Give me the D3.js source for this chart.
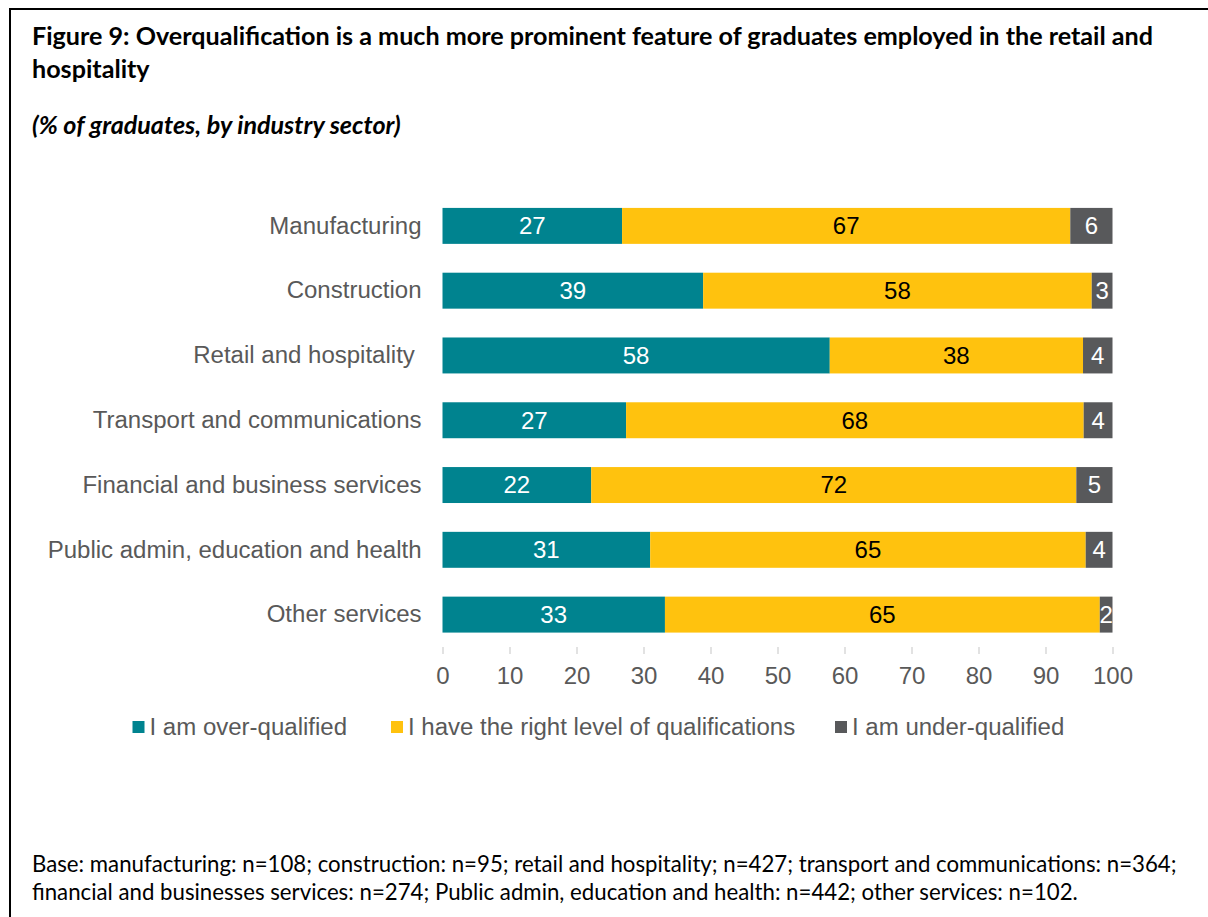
<!DOCTYPE html>
<html>
<head>
<meta charset="utf-8">
<script src="https://cdn.jsdelivr.net/npm/d3@7"></script>
<style>
  html, body { margin: 0; padding: 0; background: #fff; }
  svg { display: block; }
  .sans { font-family: "Liberation Sans", Arimo, Arial, Roboto, sans-serif; }
</style>
</head>
<body>
<svg id="chart" width="1208" height="917"></svg>
<script>
// Graduates' self-assessed qualification match, by industry sector (%)
const categories = [
  "Manufacturing",
  "Construction",
  "Retail and hospitality ",
  "Transport and communications",
  "Financial and business services",
  "Public admin, education and health",
  "Other services"
];
const seriesNames = [
  "I am over-qualified",
  "I have the right level of qualifications",
  "I am under-qualified"
];
const overQualified  = [26.8, 38.9, 57.8, 27.4, 22.2, 31.0, 33.2];
const rightLevel     = [66.9, 58.0, 37.8, 68.3, 72.4, 65.0, 64.9];
const underQualified = [6.3, 3.1, 4.4, 4.3, 5.4, 4.0, 1.9];
const xTicks = [0, 10, 20, 30, 40, 50, 60, 70, 80, 90, 100];

const titleLines = [
  "Figure 9: Overqualification is a much more prominent feature of graduates employed in the retail and",
  "hospitality"
];
const subtitle = "(% of graduates, by industry sector)";
const footnoteLines = [
  "Base: manufacturing: n=108; construction: n=95; retail and hospitality; n=427; transport and communications: n=364;",
  "financial and businesses services: n=274; Public admin, education and health: n=442; other services: n=102."
];

const colors = ["#00838F", "#FFC20E", "#58595B"];
const labelColors = ["#ffffff", "#000000", "#ffffff"];

const svg = d3.select("#chart");
const body = "Lato, 'Open Sans', sans-serif";

// Frame
svg.append("path")
  .attr("d", "M10,940 L10,9 L1230,9")
  .attr("fill", "none")
  .attr("stroke", "#000")
  .attr("stroke-width", 2);

// Shrinks/grows a text node's font size so it spans a given width
function fitWidth(sel, width) {
  const node = sel.node();
  const fs = parseFloat(sel.attr("font-size"));
  const w = node.getComputedTextLength();
  if (w > 0) sel.attr("font-size", (fs * width / w).toFixed(2));
  return sel;
}

// Chart text size: sized so the longest category label spans 374px
const probe = svg.append("text").attr("class", "sans").attr("font-size", 22)
  .text(categories[5]);
fitWidth(probe, 374);
const fs = +probe.attr("font-size");
probe.remove();

// Title
const t1 = svg.append("text").attr("x", 32).attr("y", 45)
  .attr("font-family", body).attr("font-weight", 700).attr("font-size", 21)
  .attr("fill", "#000").text(titleLines[0]);
fitWidth(t1, 1121);
const titleSize = t1.attr("font-size");
svg.append("text").attr("x", 32).attr("y", 78)
  .attr("font-family", body).attr("font-weight", 700).attr("font-size", titleSize)
  .attr("fill", "#000").text(titleLines[1]);
svg.append("text").attr("x", 32).attr("y", 134)
  .attr("font-family", body).attr("font-weight", 700).attr("font-style", "italic")
  .attr("font-size", titleSize).attr("fill", "#000").text(subtitle);

// Scales
const x = d3.scaleLinear().domain([0, 100]).range([442.5, 1112.5]);
const y = d3.scaleBand().domain(categories).range([193.5, 647])
  .paddingInner(0.445).paddingOuter(0.2225);

// Gridlines with short tick extensions below the plot
const gridG = svg.append("g")
  .attr("transform", `translate(0,${y.range()[1]})`)
  .call(d3.axisBottom(x).tickValues(xTicks)
    .tickSize(-(y.range()[1] - y.range()[0]))
    .tickSizeOuter(0)
    .tickFormat(""));
gridG.select(".domain").remove();
gridG.selectAll(".tick line").attr("stroke", "#d9d9d9").attr("stroke-width", 1.5)
  .attr("y2", 7);

// Tick labels
const axisG = svg.append("g")
  .attr("transform", `translate(0,${y.range()[1]})`)
  .call(d3.axisBottom(x).tickValues(xTicks).tickSize(0).tickPadding(20));
axisG.select(".domain").remove();
axisG.attr("font-family", null).attr("font-size", null);
axisG.selectAll("text").attr("class", "sans").attr("font-size", fs)
  .attr("fill", "#595959");

// Category labels
const catG = svg.append("g")
  .attr("transform", `translate(${x(0) - 21},0)`)
  .call(d3.axisLeft(y).tickSize(0).tickPadding(0));
catG.select(".domain").remove();
catG.attr("font-family", null).attr("font-size", null);
catG.selectAll("text").attr("class", "sans").attr("font-size", fs)
  .attr("fill", "#595959").style("white-space", "pre");

// Stacked bars
const rows = categories.map((c, i) => ({
  category: c,
  s0: overQualified[i],
  s1: rightLevel[i],
  s2: underQualified[i]
}));
const stack = d3.stack().keys(["s0", "s1", "s2"]);
const layers = stack(rows);

const fmt = d3.format(".0f");
layers.forEach((layer, k) => {
  const g = svg.append("g");
  g.selectAll("rect").data(layer).join("rect")
    .attr("x", d => x(d[0]))
    .attr("y", d => y(d.data.category))
    .attr("width", d => x(d[1]) - x(d[0]))
    .attr("height", y.bandwidth())
    .attr("fill", colors[k]);
  g.selectAll("text").data(layer).join("text")
    .attr("class", "sans")
    .attr("x", d => (x(d[0]) + x(d[1])) / 2)
    .attr("y", d => y(d.data.category) + y.bandwidth() / 2)
    .attr("dy", "0.35em")
    .attr("text-anchor", "middle")
    .attr("font-size", fs)
    .attr("fill", labelColors[k])
    .text(d => fmt(d[1] - d[0]));
});

// Legend
const legendX = [132.5, 391, 835];
const legend = svg.append("g");
seriesNames.forEach((name, k) => {
  legend.append("rect")
    .attr("x", legendX[k]).attr("y", 721)
    .attr("width", 12).attr("height", 12)
    .attr("fill", colors[k]);
  legend.append("text")
    .attr("class", "sans")
    .attr("x", legendX[k] + 17).attr("y", 727)
    .attr("dy", "0.35em")
    .attr("font-size", fs)
    .attr("fill", "#595959")
    .text(name);
});

// Footnote
const f1 = svg.append("text").attr("x", 32).attr("y", 872)
  .attr("font-family", body).attr("font-size", 19).attr("fill", "#000")
  .text(footnoteLines[0]);
fitWidth(f1, 1145);
svg.append("text").attr("x", 32).attr("y", 900)
  .attr("font-family", body).attr("font-size", f1.attr("font-size")).attr("fill", "#000")
  .text(footnoteLines[1]);
</script>
</body>
</html>
